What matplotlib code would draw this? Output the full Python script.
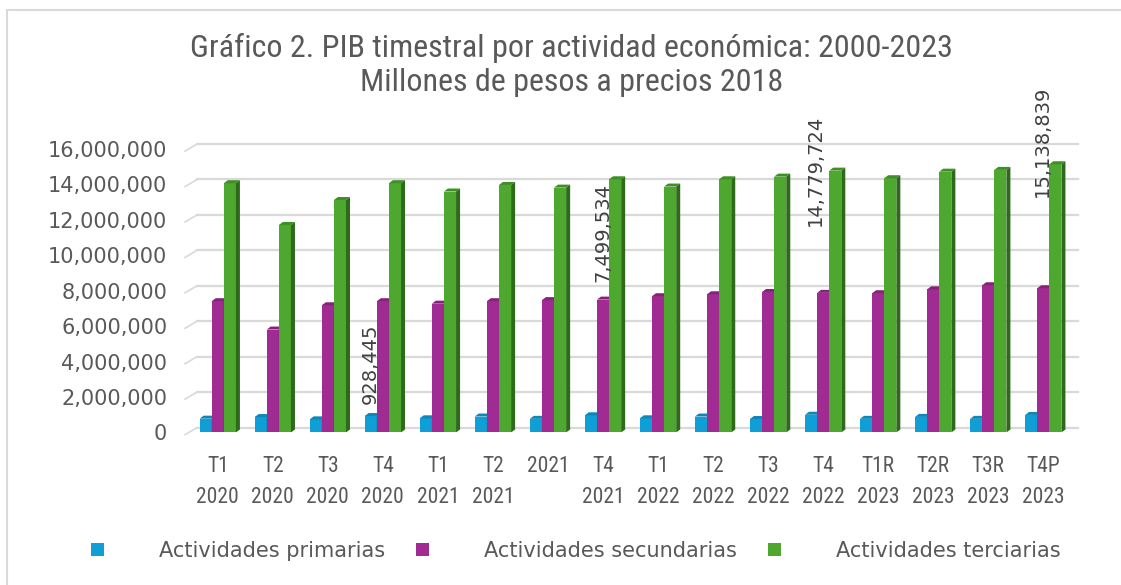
import matplotlib
matplotlib.use("Agg")
import matplotlib.pyplot as plt
import numpy as np
from matplotlib import font_manager
from matplotlib.patches import Polygon, Rectangle
from matplotlib.ticker import FuncFormatter

# datos (pesos, millones a precios 2018)
periodos = ["T1\n2020", "T2\n2020", "T3\n2020", "T4\n2020", "T1\n2021", "T2\n2021",
            "2021\n ", "T4\n2021", "T1\n2022", "T2\n2022", "T3\n2022", "T4\n2022",
            "T1R\n2023", "T2R\n2023", "T3R\n2023", "T4P\n2023"]
primarias = [780000, 870000, 740000, 928445, 800000, 900000, 770000, 970000,
             800000, 900000, 760000, 1000000, 770000, 880000, 770000, 990000]
secundarias = [7410000, 5810000, 7180000, 7410000, 7270000, 7410000, 7470000, 7499534,
               7690000, 7800000, 7930000, 7880000, 7860000, 8080000, 8310000, 8140000]
terciarias = [14070000, 11710000, 13120000, 14070000, 13600000, 13970000, 13820000, 14290000,
              13880000, 14290000, 14440000, 14779724, 14350000, 14720000, 14820000, 15138839]
series_nombres = ["Actividades primarias", "Actividades secundarias", "Actividades terciarias"]

# etiquetas de datos: (serie, periodo) y su desplazamiento en pixeles
etiquetas = [(0, 3), (1, 7), (2, 11), (2, 15)]
etiqueta_offsets = [(0, 12), (0, 18), (-20, -55), (-13, -33)]

front_colors = ["#0F9ED5", "#A02B93", "#4EA72E"]
top_colors = ["#0C87B8", "#87227C", "#3E8F24"]
side_colors = ["#0A6A90", "#6A1A61", "#2D6B1A"]
gray = "#595959"

installed = {f.name for f in font_manager.fontManager.ttflist}
narrow = None
for name in ["Liberation Sans Narrow", "Roboto Condensed", "Open Sans Condensed"]:
    if name in installed:
        narrow = dict(family=name)
        break
if narrow is None:
    narrow = dict(family="DejaVu Sans", stretch="condensed")

fig = plt.figure(figsize=(11.21, 5.85), dpi=100)
ax = fig.add_axes([0.1697, 0.2607, 0.7855, 0.4846])

# marco del grafico
fig.patches.append(Rectangle((7 / 1121, -0.05), 1.1, 1 - 10 / 585 + 0.05,
                             transform=fig.transFigure, fill=False,
                             edgecolor="#d9d9d9", lw=1.5))

x = np.arange(len(periodos))
w = 0.22
dx = 0.073
dy = 170000
barras = []
for k, vals in enumerate([primarias, secundarias, terciarias]):
    xs = x + (k - 1) * w
    b = ax.bar(xs, vals, w, color=front_colors[k], zorder=3 + k, label=series_nombres[k])
    barras.append(b)
    for xi, v in zip(xs, vals):
        ax.add_patch(Polygon([(xi - w / 2, v), (xi + w / 2, v), (xi + w / 2 + dx, v + dy),
                              (xi - w / 2 + dx, v + dy)], closed=True,
                             facecolor=top_colors[k], edgecolor="none", zorder=3 + k))
        ax.add_patch(Polygon([(xi + w / 2, 0), (xi + w / 2 + dx, dy), (xi + w / 2 + dx, v + dy),
                              (xi + w / 2, v)], closed=True,
                             facecolor=side_colors[k], edgecolor="none", zorder=3 + k))

ax.set_xlim(-0.5, 15.5)
ax.set_ylim(0, 16000000)
yticks = np.arange(0, 16000001, 2000000)
ax.set_yticks(yticks)
ax.yaxis.set_major_formatter(FuncFormatter(lambda v, p: f"{v:,.0f}"))

# cuadricula en la pared del fondo (3D)
for v in yticks:
    ax.plot([-0.377, 15.63], [v + 280000, v + 280000], color="#d9d9d9", lw=1.6,
            clip_on=False, zorder=1)
    ax.plot([-0.594, -0.377], [v - 120000, v + 280000], color="#d9d9d9", lw=1.2,
            clip_on=False, zorder=1)

for s in ax.spines.values():
    s.set_visible(False)
ax.tick_params(axis="y", length=0, pad=16.5, labelsize=15, labelcolor=gray)
ax.set_xticks(x)
ax.set_xticklabels(periodos, fontsize=15.5, color=gray, linespacing=1.6, **narrow)
ax.tick_params(axis="x", length=0, pad=17)

valores = [primarias, secundarias, terciarias]
for (k, i), (ox, oy) in zip(etiquetas, etiqueta_offsets):
    v = valores[k][i]
    ax.annotate(f"{v:,.0f}", (x[i] + (k - 1) * w, v), xytext=(ox * 0.72, oy * 0.72),
                textcoords="offset points", rotation=90, ha="center", va="bottom",
                fontsize=14, color="#404040", zorder=10)

fig.text(0.51, 1 - 48 / 585, "Gráfico 2. PIB timestral por actividad económica: 2000-2023",
         ha="center", va="center", fontsize=23, color=gray, **narrow)
fig.text(0.51, 1 - 83 / 585, "Millones de pesos a precios 2018",
         ha="center", va="center", fontsize=23, color=gray, **narrow)

fig.legend(handles=barras, loc="center", bbox_to_anchor=(576 / 1121, 1 - 551 / 585),
           ncol=3, frameon=False, fontsize=15, labelcolor=gray,
           handlelength=0.625, handleheight=0.625, handletextpad=2.64, columnspacing=1.49)

fig.savefig("out.png", dpi=100)
